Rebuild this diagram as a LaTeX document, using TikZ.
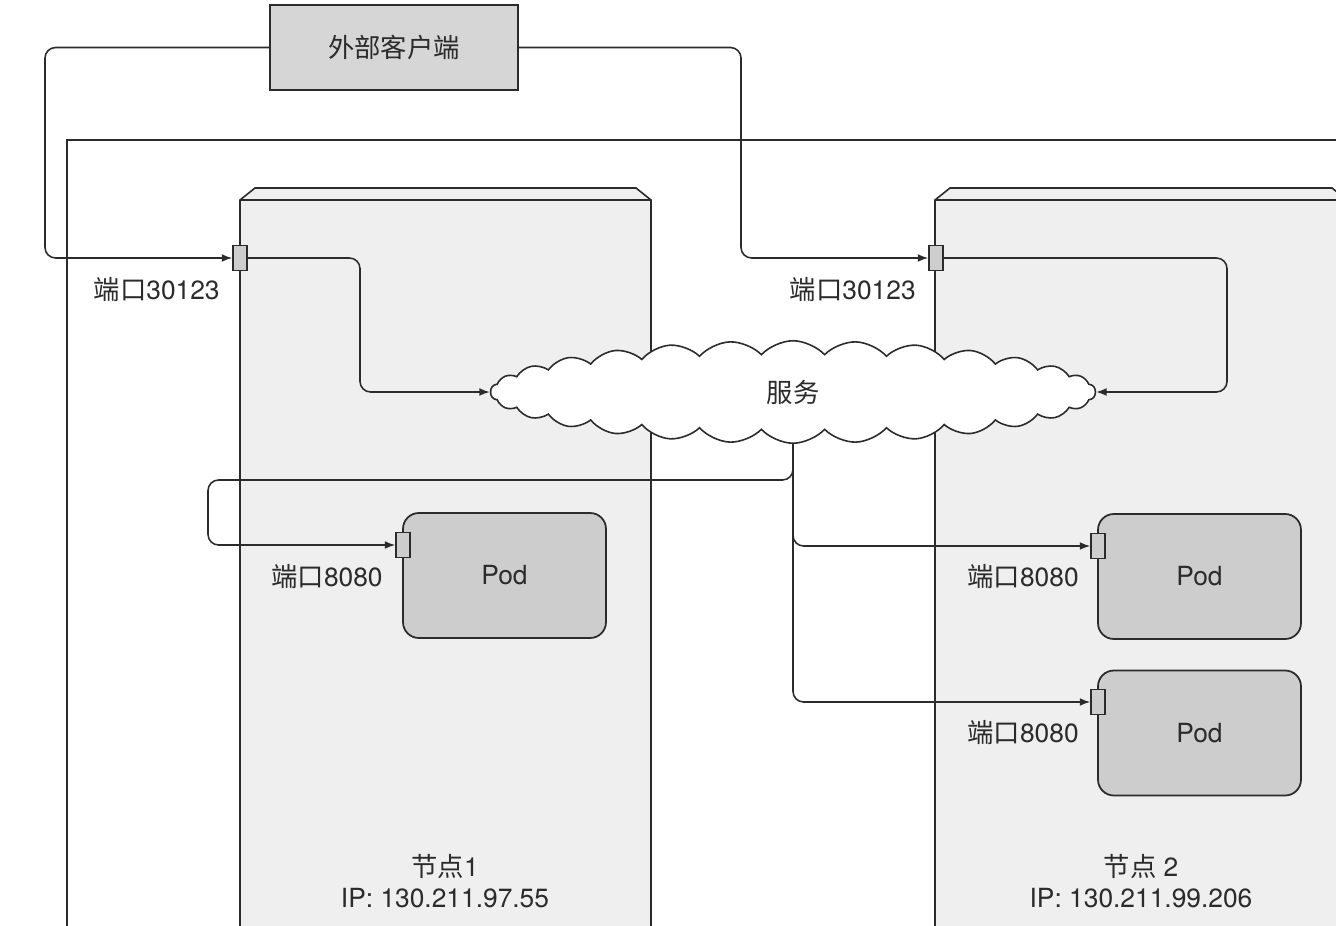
\documentclass[tikz,border=0pt]{standalone}
\usepackage{fontspec}
\setmainfont{TeX Gyre Heros}
\newfontfamily\zhfont{Noto Sans CJK SC}
\newcommand\zh[1]{{\zhfont #1}}
\usepackage{tikz}
\usetikzlibrary{arrows.meta,positioning,shapes.symbols}
\definecolor{ink}{HTML}{2B2B2B}
\definecolor{slabgray}{HTML}{EFEFEF}
\definecolor{boxgray}{HTML}{D6D6D6}
\definecolor{podgray}{HTML}{CDCDCD}

\begin{document}
\begin{tikzpicture}[x=0.02cm,y=-0.02cm,font=\fontsize{15}{18}\selectfont,text=ink,
  slab/.style={draw=ink,line width=0.9pt,fill=slabgray},
  client/.style={draw=ink,line width=1pt,fill=boxgray,minimum width=4.96cm,minimum height=1.7cm},
  pod/.style={draw=ink,line width=1pt,fill=podgray,rounded corners=9pt,minimum width=4.06cm,minimum height=2.5cm},
  port/.style={draw=ink,line width=0.8pt,fill=podgray,minimum width=0.28cm,minimum height=0.5cm,inner sep=0pt},
  svc/.style={cloud,cloud puffs=30,cloud puff arc=95,cloud ignores aspect,draw=ink,line width=0.9pt,fill=white,minimum width=12.1cm,minimum height=2.05cm},
  tag/.style={anchor=east,inner sep=0pt},
  flow/.style={-{Latex[length=6pt,width=4.5pt]},draw=ink,line width=0.9pt,rounded corners=6pt}]
\clip (0,0) rectangle (1336,926);
% --- cluster outline ---
\draw[ink,line width=0.9pt] (67,940) -- (67,140) -- (1350,140);
% --- the two worker nodes ---
\draw[slab] (240,940) -- (240,200) -- (255,188) -- (636,188) -- (651,200) -- (651,940);
\draw[ink,line width=0.9pt] (240,200) -- (651,200);
\draw[slab] (935,940) -- (935,200) -- (950,188) -- (1332,188) -- (1347,200) -- (1347,940);
\draw[ink,line width=0.9pt] (935,200) -- (1347,200);
\node[align=center] (n1) at (445,881) {\zh{节点}1\\IP: 130.211.97.55};
\node[align=center] (n2) at (1141,881) {\zh{节点} 2\\IP: 130.211.99.206};
% --- client, node ports, service ---
\node[client] (cli) at (394,47.5) {\zh{外部客户端}};
\node[port] (p1) at (240,258) {};
\node[port] (p2) at (936,258) {};
\node[tag] (p1l) at (220,290) {\zh{端口}30123};
\node[tag] (p2l) at (916,290) {\zh{端口}30123};
\node[svc] (s) at (793,392) {\zh{服务}};
% --- pods ---
\node[pod] (pod1) at (504.5,575.5) {Pod};
\node[pod] (pod2) at (1199.5,576.5) {Pod};
\node[pod] (pod3) at (1199.5,733) {Pod};
\node[port] (q1) at (403,545) {};
\node[port] (q2) at (1098,546) {};
\node[port] (q3) at (1098,702) {};
\node[tag] (q1l) at (383,577) {\zh{端口}8080};
\node[tag] (q2l) at (1079,577) {\zh{端口}8080};
\node[tag] (q3l) at (1079,733) {\zh{端口}8080};
% --- connections ---
\draw[flow] (cli.west) -| (45,150) |- (p1.west);
\draw[flow] (cli.east) -| (741,150) |- (p2.west);
\draw[flow] (p1.east) -| (360,330) |- (s.west);
\draw[flow] (p2.east) -| (1227,330) |- (s.east);
\draw[flow] (s.south) |- (208,480) |- (q1.west);
\draw[flow] (s.south) |- (q2.west);
\draw[flow] (s.south) |- (q3.west);
\end{tikzpicture}
\end{document}
